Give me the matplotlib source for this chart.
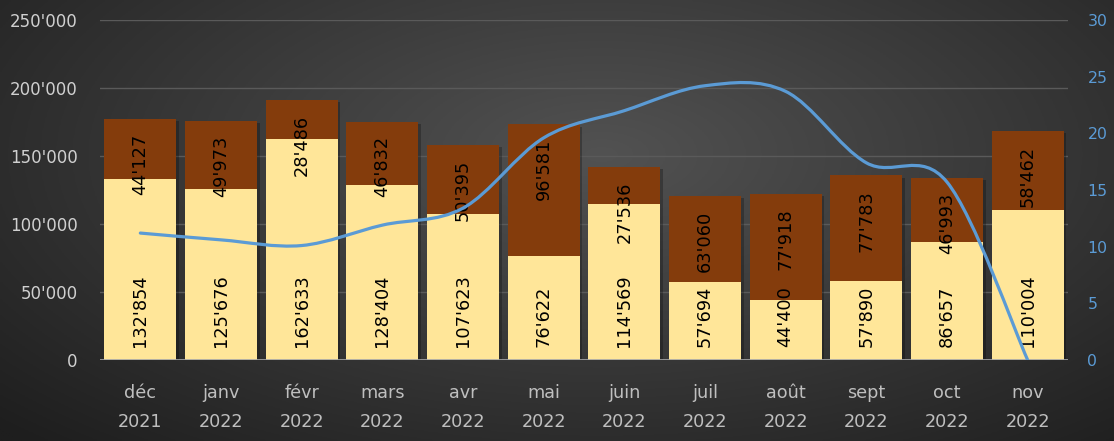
import numpy as np
import matplotlib
matplotlib.use("Agg")
import matplotlib.pyplot as plt
from matplotlib.path import Path
from matplotlib.patches import PathPatch
from matplotlib.ticker import FuncFormatter, MultipleLocator
import matplotlib.patheffects as pe

# data
months = ["déc\n2021", "janv\n2022", "févr\n2022", "mars\n2022", "avr\n2022", "mai\n2022",
          "juin\n2022", "juil\n2022", "août\n2022", "sept\n2022", "oct\n2022", "nov\n2022"]
base_vals = [132854, 125676, 162633, 128404, 107623, 76622, 114569, 57694, 44400, 57890, 86657, 110004]
top_vals = [44127, 49973, 28486, 46832, 50395, 96581, 27536, 63060, 77918, 77783, 46993, 58462]
line_vals = [11.2, 10.6, 10.1, 11.9, 13.4, 19.6, 22.0, 24.2, 23.7, 17.4, 15.7, 0.0]

YELLOW = "#FFE699"
BROWN = "#843C0C"
BLUE = "#5B9BD5"


def fmt(v):
    return f"{int(round(v)):,}".replace(",", "'")


def smooth_path(xs, ys):
    # Excel-like smoothed line: Catmull-Rom as cubic Bezier segments
    p = np.column_stack([xs, ys]).astype(float)
    n = len(p)
    verts = [p[0]]
    codes = [Path.MOVETO]
    for i in range(n - 1):
        pm = p[i - 1] if i > 0 else p[i]
        pn = p[i + 2] if i + 2 < n else p[i + 1]
        c1 = p[i] + (p[i + 1] - pm) / 6
        c2 = p[i + 1] - (pn - p[i]) / 6
        verts += [c1, c2, p[i + 1]]
        codes += [Path.CURVE4] * 3
    return Path(verts, codes)


fig = plt.figure(figsize=(11.14, 4.41), dpi=100)

# radial dark background
bg = fig.add_axes([0, 0, 1, 1], zorder=-10)
gx, gy = np.meshgrid(np.linspace(0, 1, 400), np.linspace(0, 1, 200))
r = np.sqrt(((gx - 0.54) / 0.75) ** 2 + ((gy - 0.35) / 0.9) ** 2)
r = np.clip(r, 0, 1)
c_in, c_out = np.array([0x52, 0x52, 0x52]) / 255, np.array([0x1e, 0x1e, 0x1e]) / 255
img = c_in[None, None, :] * (1 - r[..., None]) + c_out[None, None, :] * r[..., None]
bg.imshow(img, extent=[0, 1, 0, 1], aspect="auto", origin="upper")
bg.axis("off")

ax = fig.add_axes([100 / 1114, 81 / 441, 968 / 1114, 340 / 441])
ax.set_facecolor("none")
x = np.arange(len(months))
totals = np.array(base_vals) + np.array(top_vals)

# soft shadow behind each whole stack
sh = ax.bar(x, totals, width=0.89, color="black", zorder=2)
for b in sh:
    b.set_path_effects([pe.SimplePatchShadow(offset=(2, -1.5), shadow_rgbFace="black", alpha=0.25)])
ax.bar(x, base_vals, width=0.89, color=YELLOW, zorder=3)
ax.bar(x, top_vals, width=0.89, bottom=base_vals, color=BROWN, zorder=3)

for xi, bv, tv, tot in zip(x, base_vals, top_vals, totals):
    ax.annotate(fmt(bv), (xi, 0), xytext=(0, 9.5), textcoords="offset points",
                rotation=90, ha="center", va="bottom", fontsize=12.8, color="black", zorder=5)
    ax.annotate(fmt(tv), (xi, tot), xytext=(0, -10.5), textcoords="offset points",
                rotation=90, ha="center", va="top", fontsize=12.8, color="black", zorder=5)

ax.set_xlim(-0.5, len(months) - 0.5)
ax.set_ylim(0, 250000)
ax.yaxis.set_major_locator(MultipleLocator(50000))
ax.yaxis.set_major_formatter(FuncFormatter(lambda v, _: fmt(v)))
ax.grid(axis="y", color="#5a5a5a", lw=1, zorder=0)
ax.axhline(0, color="#a6a6a6", lw=1.2, zorder=4)
ax.set_xticks(x)
ax.set_xticklabels(months, linespacing=1.8)
ax.tick_params(axis="y", length=0, pad=16, labelsize=12, labelcolor="#d0d0d0")
ax.tick_params(axis="x", length=0, pad=17, labelsize=12.7, labelcolor="#bfbfbf")
for s in ax.spines.values():
    s.set_visible(False)

ax2 = ax.twinx()
ax2.set_ylim(0, 30)
ax2.yaxis.set_major_locator(MultipleLocator(5))
ax2.tick_params(axis="y", length=0, pad=14, labelsize=11.3, labelcolor=BLUE)
for s in ax2.spines.values():
    s.set_visible(False)
ax2.add_patch(PathPatch(smooth_path(x, line_vals), fill=False, edgecolor=BLUE,
                        lw=2.3, capstyle="round", joinstyle="round", zorder=6))

fig.savefig("out.png", dpi=100)
